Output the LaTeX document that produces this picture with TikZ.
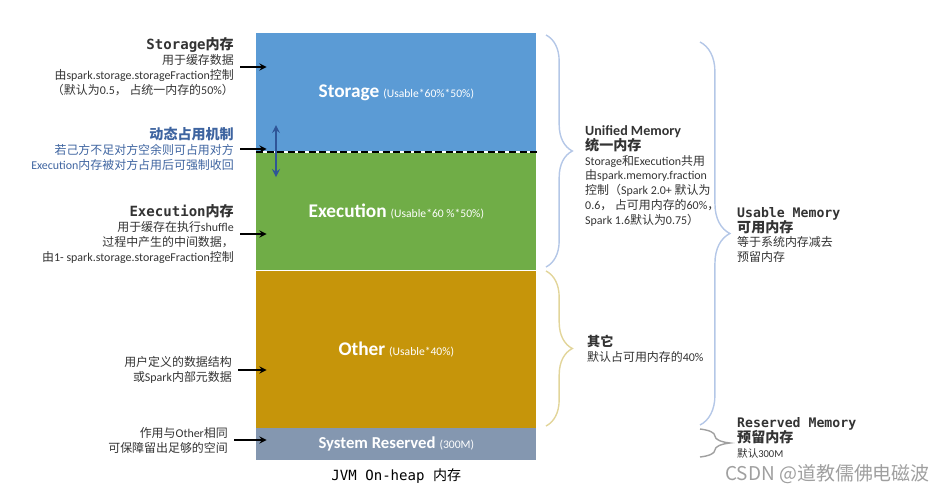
\documentclass[tikz,border=0pt]{standalone}
\usepackage{fontspec}
\setmainfont{Carlito}
\setmonofont{DejaVu Sans Mono}
\newfontfamily\cjk{Noto Sans CJK SC}
\newcommand\zh[1]{{\cjk #1}}
\newcommand\notesize{\fontsize{6.8}{8.5}\selectfont}
\usepackage{tikz}
\usetikzlibrary{positioning}
\usetikzlibrary{decorations.pathreplacing}

\definecolor{stblue}{HTML}{5B9BD5}
\definecolor{exgreen}{HTML}{70AD47}
\definecolor{otgold}{HTML}{C6950A}
\definecolor{sysgrey}{HTML}{8497B0}
\definecolor{dynblue}{HTML}{2F5597}
\definecolor{dyntext}{HTML}{3E64A0}
\definecolor{notegray}{HTML}{333333}
\definecolor{uniline}{HTML}{B4C7E7}
\definecolor{otline}{HTML}{E2D59A}
\definecolor{resline}{HTML}{A0A0A0}

\begin{document}
\begin{tikzpicture}[x=0.02cm, y=-0.02cm,
  block/.style={minimum width=5.6cm, inner sep=0pt, text=white, font=\bfseries},
  note/.style={align=right, anchor=east, font=\notesize, text=notegray},
  info/.style={align=left, anchor=west, font=\notesize, text=notegray},
  pointer/.style={->, >=stealth, line width=0.8pt, shorten >=-6pt},
  memBrace/.style={decorate, decoration={brace, amplitude=#1}, line width=0.8pt}]
  \useasboundingbox (0,0) rectangle (947,495);

  % memory column
  \node[block, fill=stblue, minimum height=2.36cm, anchor=north west] (storage) at (256,33)
    {{\fontsize{11}{13}\selectfont Storage}\ {\fontsize{6.6}{7}\selectfont\mdseries (Usable*60\%*50\%)}};
  \node[block, fill=exgreen, minimum height=2.36cm, below=0pt of storage] (execution)
    {{\fontsize{11}{13}\selectfont Execution}\ {\fontsize{6.6}{7}\selectfont\mdseries (Usable*60 \%*50\%)}};
  \node[block, fill=otgold, minimum height=3.14cm, below=0pt of execution] (other)
    {{\fontsize{11}{13}\selectfont Other}\ {\fontsize{6.6}{7}\selectfont\mdseries (Usable*40\%)}};
  \node[block, fill=sysgrey, minimum height=0.64cm, below=0pt of other] (sysres)
    {{\fontsize{9.5}{11}\selectfont System Reserved}\ {\fontsize{6.6}{7}\selectfont\mdseries (300M)}};
  \node[below=1pt of sysres] (jvm) {\fontsize{8}{10}\selectfont\ttfamily JVM On-heap \zh{内存}};

  \draw[white, line width=1pt] (storage.south west) -- (storage.south east);
  \draw[black, line width=1pt, dash pattern=on 4pt off 2pt] (storage.south west) -- (storage.south east);

  \coordinate (dynTop) at (276,125);
  \coordinate (dynBot) at (276,177);
  \draw[<->, >=stealth, dynblue, line width=1pt] (dynTop) -- (dynBot);

  % left notes
  \node[note] (stNote) at (240,67) {{\fontsize{8}{10}\selectfont\ttfamily\bfseries Storage\zh{内存}}\\
    \zh{用于缓存数据}\\
    \zh{由}spark.storage.storageFraction\zh{控制}\\
    \zh{（默认为}0.5\zh{，\ 占统一内存的}50\%\zh{）}};
  \node[note, text=dyntext] (dynNote) at (240,149) {{\fontsize{8}{10}\selectfont\bfseries\zh{动态占用机制}}\\
    \zh{若己方不足对方空余则可占用对方}\\
    Execution\zh{内存被对方占用后可强制收回}};
  \node[note] (exNote) at (240,234) {{\fontsize{8}{10}\selectfont\ttfamily\bfseries Execution\zh{内存}}\\
    \zh{用于缓存在执行}shuffle\\
    \zh{过程中产生的中间数据，}\\
    \zh{由}1- spark.storage.storageFraction\zh{控制}};
  \node[note] (otNote) at (238,370) {\zh{用户定义的数据结构}\\ \zh{或}Spark\zh{内部元数据}};
  \node[note] (sysNote) at (234,440) {\zh{作用与}Other\zh{相同}\\ \zh{可保障留出足够的空间}};

  \draw[pointer] (stNote.east) -- (stNote.east -| storage.west);
  \draw[pointer] (dynNote.east) -- (dynNote.east -| storage.west);
  \draw[pointer] (exNote.east) -- (exNote.east -| execution.west);
  \draw[pointer] (otNote.east) -- (otNote.east -| other.west);
  \draw[pointer] (sysNote.east) -- (sysNote.east -| sysres.west);

  % braces
  \draw[memBrace=15pt, uniline] (546,35) -- (546,267);
  \draw[memBrace=15pt, otline] (546,271) -- (546,426);
  \draw[memBrace=17pt, uniline] (700,42) -- (700,425);
  \draw[memBrace=17pt, resline] (700,429) -- (700,457);

  % right notes
  \node[info] (uniNote) at (579,176) {{\fontsize{8}{10}\selectfont\bfseries Unified Memory}\\
    {\fontsize{8}{10}\selectfont\bfseries\zh{统一内存}}\\
    Storage\zh{和}Execution\zh{共用}\\
    \zh{由}spark.memory.fraction\\
    \zh{控制（}Spark 2.0+ \zh{默认为}\\
    0.6\zh{，\ 占可用内存的}60\%\zh{，}\\
    Spark 1.6\zh{默认为}0.75\zh{）}};
  \node[info] (otherNote) at (581,349) {{\fontsize{7.5}{9}\selectfont\bfseries\zh{其它}}\\
    \zh{默认占可用内存的}40\%};
  \node[info] (usableNote) at (731,235) {{\fontsize{7.5}{9}\selectfont\ttfamily\bfseries Usable Memory}\\
    {\fontsize{8}{10}\selectfont\bfseries\zh{可用内存}}\\
    \zh{等于系统内存减去}\\
    \zh{预留内存}};
  \node[info] (resNote) at (731,438) {{\fontsize{7.5}{9}\selectfont\ttfamily\bfseries Reserved Memory}\\
    {\fontsize{8}{10}\selectfont\bfseries\zh{预留内存}}\\
    {\fontsize{6}{7}\selectfont\zh{默认}300M}};

  \node[anchor=west, text=gray!75] (mark) at (719,474) {\fontsize{10.8}{12}\selectfont\cjk CSDN @道教儒佛电磁波};
\end{tikzpicture}
\end{document}
